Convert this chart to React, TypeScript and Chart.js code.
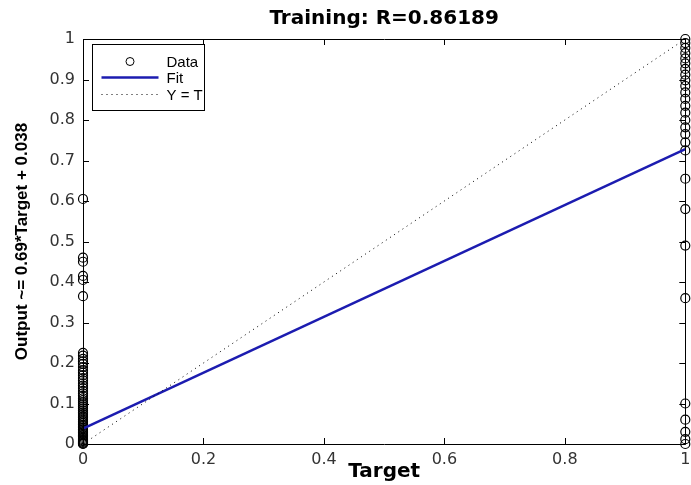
import { useEffect, useRef } from "react";
import { Chart, registerables } from "chart.js";

Chart.register(...registerables);

const titleText = "Training: R=0.86189";
const xAxisLabel = "Target";
const yAxisLabel = "Output ~= 0.69*Target + 0.038";
const legendLabels = ["Data", "Fit", "Y = T"];

const xTickValues = [0, 0.2, 0.4, 0.6, 0.8, 1];
const yTickValues = [0, 0.1, 0.2, 0.3, 0.4, 0.5, 0.6, 0.7, 0.8, 0.9, 1];

// Outputs for samples whose target is 0
const outputsTarget0 = [
  0.605, 0.46, 0.45, 0.415, 0.405, 0.365,
  0.225, 0.218, 0.21, 0.204, 0.198, 0.19, 0.182, 0.176, 0.17, 0.163,
  0.157, 0.15, 0.144, 0.138, 0.131, 0.125, 0.119, 0.113, 0.108, 0.103,
  0.098, 0.093, 0.088, 0.083, 0.078, 0.074, 0.069, 0.065, 0.06, 0.056,
  0.052, 0.048, 0.044, 0.04, 0.036, 0.032, 0.028, 0.025, 0.021, 0.018,
  0.015, 0.012, 0.009, 0.007, 0.005, 0.003, 0.001, 0,
];

// Outputs for samples whose target is 1
const outputsTarget1 = [
  1.0, 0.99, 0.978, 0.965, 0.952, 0.94, 0.926, 0.912, 0.898, 0.884,
  0.868, 0.852, 0.835, 0.818, 0.8, 0.782, 0.765, 0.745, 0.725, 0.655,
  0.58, 0.49, 0.36, 0.1, 0.06, 0.03, 0.012, 0,
];

const fitTargets = [0, 1];
const fitOutputs = [0.038, 0.728];
const identityTargets = [0, 1];
const identityOutputs = [0, 1];

const fitColor = "#1c1cb0";
const tickFont = { family: "DejaVu Sans", size: 16 };

const framePlugin = {
  id: "matlabFrame",
  afterDatasetsDraw(chart: any) {
    const { ctx, chartArea, scales } = chart;
    const { left, right, top, bottom } = chartArea;
    const xs = scales.x;
    const ys = scales.y;
    ctx.save();
    ctx.strokeStyle = "#000";
    ctx.lineWidth = 1;
    ctx.beginPath();
    ctx.rect(Math.round(left) + 0.5, Math.round(top) + 0.5, Math.round(right - left), Math.round(bottom - top));
    ctx.stroke();
    const len = 6;
    ctx.beginPath();
    xs.ticks.forEach((t: any) => {
      const px = Math.round(xs.getPixelForValue(t.value)) + 0.5;
      ctx.moveTo(px, bottom);
      ctx.lineTo(px, bottom - len);
      ctx.moveTo(px, top);
      ctx.lineTo(px, top + len);
    });
    ys.ticks.forEach((t: any) => {
      const py = Math.round(ys.getPixelForValue(t.value)) + 0.5;
      ctx.moveTo(left, py);
      ctx.lineTo(left + len, py);
      ctx.moveTo(right, py);
      ctx.lineTo(right - len, py);
    });
    ctx.stroke();
    ctx.restore();
  },
  afterDraw(chart: any) {
    const { ctx, chartArea } = chart;
    const bx = Math.round(chartArea.left) + 9.5;
    const by = Math.round(chartArea.top) + 5.5;
    const bw = 112;
    const bh = 66;
    ctx.save();
    ctx.fillStyle = "#fff";
    ctx.fillRect(bx, by, bw, bh);
    ctx.strokeStyle = "#000";
    ctx.lineWidth = 1;
    ctx.strokeRect(bx, by, bw, bh);
    const rows = [by + 17, by + 33, by + 50];
    const lx0 = bx + 9;
    const lx1 = bx + 66;
    ctx.font = '15px "Liberation Sans"';
    ctx.fillStyle = "#000";
    ctx.textBaseline = "middle";
    ctx.textAlign = "left";
    chart.data.datasets.forEach((ds: any, i: number) => {
      const label = legendLabels[i];
      if (label === undefined) return;
      const ry = rows[i];
      ctx.save();
      if (i === 0) {
        ctx.beginPath();
        ctx.strokeStyle = "#000";
        ctx.lineWidth = 1;
        ctx.arc((lx0 + lx1) / 2, ry, 4, 0, Math.PI * 2);
        ctx.stroke();
      } else {
        ctx.beginPath();
        ctx.strokeStyle = ds.borderColor;
        ctx.lineWidth = ds.borderWidth;
        ctx.setLineDash(ds.borderDash || []);
        ctx.moveTo(lx0, ry);
        ctx.lineTo(lx1, ry);
        ctx.stroke();
      }
      ctx.restore();
      ctx.fillText(label, lx1 + 8, ry + 1);
    });
    ctx.restore();
  },
};

export default function App() {
  const canvasRef = useRef<HTMLCanvasElement | null>(null);

  useEffect(() => {
    const canvas = canvasRef.current;
    if (!canvas) return;
    const dataPoints = [
      ...outputsTarget0.map((v) => ({ x: 0, y: v })),
      ...outputsTarget1.map((v) => ({ x: 1, y: v })),
    ];
    const chart = new Chart(canvas, {
      type: "scatter",
      data: {
        datasets: [
          {
            label: legendLabels[0],
            data: dataPoints,
            pointStyle: "circle",
            pointRadius: 4.5,
            pointBorderWidth: 1.2,
            pointBorderColor: "#000",
            pointBackgroundColor: "rgba(0,0,0,0)",
            borderColor: "#000",
            backgroundColor: "rgba(0,0,0,0)",
            showLine: false,
            clip: false,
            order: 3,
          } as any,
          {
            label: legendLabels[1],
            type: "line",
            data: fitTargets.map((t, i) => ({ x: t, y: fitOutputs[i] })),
            borderColor: fitColor,
            borderWidth: 2.5,
            pointRadius: 0,
            showLine: true,
            fill: false,
            order: 2,
          } as any,
          {
            label: legendLabels[2],
            type: "line",
            data: identityTargets.map((t, i) => ({ x: t, y: identityOutputs[i] })),
            borderColor: "#000",
            borderWidth: 1,
            borderDash: [1, 4],
            pointRadius: 0,
            showLine: true,
            fill: false,
            order: 1,
          } as any,
        ],
      },
      options: {
        responsive: false,
        animation: false,
        events: [],
        layout: { padding: { left: 0, right: 3, top: 0, bottom: 0 } },
        plugins: {
          legend: { display: false },
          tooltip: { enabled: false },
          title: {
            display: true,
            text: titleText,
            color: "#000",
            fullSize: false,
            font: { family: "DejaVu Sans", size: 20, weight: "bold" },
            padding: { top: 7, bottom: 8 },
          },
        },
        scales: {
          x: {
            type: "linear",
            min: 0,
            max: 1,
            afterFit(scale: any) {
              scale.height = 41;
              scale.paddingLeft = 0;
              scale.paddingRight = 0;
            },
            afterBuildTicks(scale: any) {
              scale.ticks = xTickValues.map((v) => ({ value: v }));
            },
            grid: { display: false, drawTicks: false },
            border: { display: false },
            ticks: {
              color: "#333",
              font: tickFont,
              padding: 6,
              maxRotation: 0,
              autoSkip: false,
              callback: (v: any) => String(Number(Number(v).toFixed(1))),
            },
            title: {
              display: true,
              text: xAxisLabel,
              color: "#000",
              font: { family: "DejaVu Sans", size: 20, weight: "bold" },
              padding: { top: 0, bottom: 1 },
            },
          },
          y: {
            type: "linear",
            min: 0,
            max: 1,
            afterFit(scale: any) {
              scale.width = 83;
              scale.paddingTop = 0;
              scale.paddingBottom = 0;
            },
            afterBuildTicks(scale: any) {
              scale.ticks = yTickValues.map((v) => ({ value: v }));
            },
            grid: { display: false, drawTicks: false },
            border: { display: false },
            ticks: {
              color: "#333",
              font: tickFont,
              padding: 8,
              autoSkip: false,
              callback: (v: any) => String(Number(Number(v).toFixed(1))),
            },
            title: {
              display: true,
              text: yAxisLabel,
              color: "#000",
              font: { family: "Liberation Sans", size: 17, weight: "bold" },
              padding: { top: 12, bottom: 0 },
            },
          },
        },
      },
      plugins: [framePlugin],
    });
    return () => chart.destroy();
  }, []);

  return (
    <div style={{ position: "fixed", left: 0, top: 0, width: 691, height: 485, background: "#fff" }}>
      <canvas ref={canvasRef} width={691} height={485} />
    </div>
  );
}
